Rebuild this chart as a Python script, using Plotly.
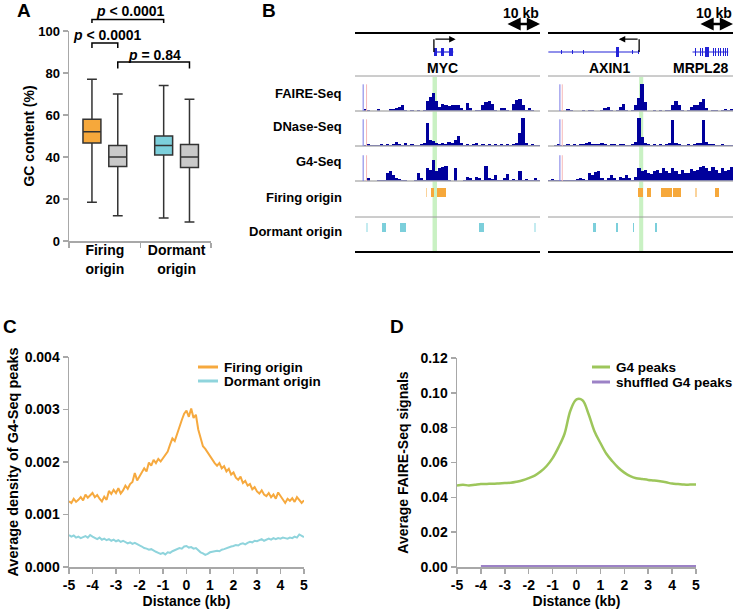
import plotly.graph_objects as go

W, H = 735, 611
FONT = "Liberation Sans, Arial, Helvetica, sans-serif"


def fx(p):
    return p / W


def fy(p):
    return 1 - p / H


def b(t):
    return f"<b>{t}</b>"


# ---------------- Panel A data: GC content ----------------
gc_categories = ["Firing<br>origin", "Dormant<br>origin"]
gc_box_names = ["Firing origin", "Firing control", "Dormant origin", "Dormant control"]
gc_box_category = [0, 0, 1, 1]
gc_box_side = [-1, 1, -1, 1]
gc_min = [18.5, 12.0, 11.0, 9.0]
gc_q1 = [46.7, 35.5, 41.0, 35.0]
gc_median = [52.0, 40.0, 45.5, 40.0]
gc_q3 = [58.0, 45.5, 50.0, 46.0]
gc_max = [77.0, 70.0, 74.0, 67.5]
gc_ticks = [0, 20, 40, 60, 80, 100]
p_texts = ["<i>p</i> &lt; 0.0001", "<i>p</i> &lt; 0.0001", "<i>p</i> = 0.84"]
p_pairs = [(0, 2), (0, 1), (1, 3)]

# ---------------- Panel B data: browser tracks ----------------
locus_length_kb = 54.4
scale_bar_kb = 10
track_names = ["FAIRE-Seq", "DNase-Seq", "G4-Seq", "Firing origin", "Dormant origin"]

faire_left = [0, 0, 0, 0.06, 0.03, 0, 0, 0.06, 0, 0, 0, 0.06, 0.08, 0.12, 0.15, 0.2, 0.05, 0, 0.03, 0,
              0.03, 0, 0.02, 0.35, 0.5, 0.62, 0.35, 0.15, 0.25, 0.2, 0.18, 0.2, 0.22, 0.22, 0.12, 0.03, 0.28, 0.12, 0, 0.05,
              0.02, 0.2, 0.3, 0.35, 0.25, 0.05, 0, 0.1, 0.1, 0.04, 0, 0.25, 0.38, 0.4, 0.2, 0.02, 0.1, 0.02, 0, 0]
faire_right = [0, 0, 0, 0, 0, 0, 0.08, 0.02, 0, 0, 0, 0.03, 0, 0.03, 0.04, 0, 0, 0.03, 0.12, 0.15,
               0.03, 0, 0.05, 0.15, 0.25, 0.05, 0, 0.03, 0.2, 0.45, 0.92, 0.3, 0, 0, 0.05, 0, 0.05, 0, 0.04, 0.05,
               0.2, 0.35, 0.2, 0.02, 0, 0.03, 0.15, 0.2, 0.2, 0.3, 0.4, 0.1, 0, 0.05, 0.05, 0, 0.03, 0.08, 0.02, 0.08]
dnase_left = [0, 0, 0, 0.04, 0.06, 0.03, 0.05, 0.04, 0.06, 0.05, 0.07, 0.05, 0.08, 0.14, 0.06, 0.05, 0.09, 0.05, 0.06, 0.04,
              0.03, 0.07, 0.1, 0.78, 0.2, 0.18, 0.12, 0.08, 0.1, 0.06, 0.15, 0.12, 0.2, 0.35, 0.1, 0.05, 0.08, 0.04, 0.06, 0.1,
              0.05, 0.07, 0.04, 0.06, 0.05, 0.08, 0.04, 0.06, 0.05, 0.07, 0.05, 0.06, 0.1, 0.45, 0.97, 0.12, 0.05, 0.06, 0.04, 0.05]
dnase_right = [0, 0, 0.04, 0.06, 0.03, 0.05, 0.07, 0.04, 0.06, 0.05, 0.08, 0.06, 0.09, 0.15, 0.07, 0.08, 0.06, 0.1, 0.07, 0.05,
               0.08, 0.06, 0.05, 0.07, 0.06, 0.05, 0.04, 0.06, 0.15, 0.95, 0.3, 0.1, 0.06, 0.05, 0.07, 0.04, 0.06, 0.05, 0.07, 0.1,
               0.88, 0.12, 0.06, 0.04, 0.05, 0.06, 0.04, 0.08, 0.1, 0.12, 0.88, 0.15, 0.08, 0.06, 0.05, 0.04, 0.06, 0.04, 0.05, 0.03]
g4_left = [0, 0, 0, 0, 0.1, 0, 0, 0.03, 0.05, 0.04, 0.3, 0.35, 0.22, 0.12, 0.08, 0.03, 0.05, 0, 0, 0.02,
           0.3, 0.1, 0.02, 0.45, 0.4, 0.75, 0.35, 0.45, 0.5, 0.55, 0.05, 0, 0.45, 0, 0, 0.02, 0.15, 0.12, 0.03, 0.15,
           0.1, 0.03, 0.55, 0.1, 0.08, 0.2, 0.03, 0.02, 0.12, 0.25, 0.03, 0.08, 0.02, 0.35, 0.05, 0.08, 0.02, 0.03, 0.12, 0.03]
g4_right = [0.02, 0.06, 0.05, 0.04, 0.03, 0.05, 0.02, 0.03, 0.04, 0.06, 0.1, 0.08, 0.05, 0.3, 0.2, 0.32, 0.35, 0.1, 0.05, 0.1,
            0.2, 0.12, 0.04, 0.15, 0.1, 0.2, 0.1, 0.04, 0.15, 0.45, 0.35, 0.4, 0.3, 0.25, 0.35, 0.4, 0.3, 0.45, 0.35, 0.3,
            0.45, 0.35, 0.25, 0.4, 0.3, 0.3, 0.42, 0.35, 0.4, 0.5, 0.55, 0.45, 0.35, 0.5, 0.4, 0.3, 0.45, 0.35, 0.4, 0.5]

firing_left_start = [20.9, 22.3, 24.1]
firing_left_end = [21.3, 23.2, 26.8]
firing_left_weak = [1, 0, 0]
firing_right_start = [26.4, 29.2, 33.2, 36.8, 43.2, 49.1]
firing_right_end = [27.8, 30.2, 36.4, 39.1, 43.7, 50.3]
firing_right_weak = [0, 0, 0, 0, 1, 0]
dormant_left_start = [3.2, 7.9, 13.3, 36.5, 52.5]
dormant_left_end = [3.7, 9.0, 15.0, 37.8, 53.1]
dormant_left_weak = [1, 0, 0, 0, 1]
dormant_right_start = [13.3, 20.0, 24.9, 31.5]
dormant_right_end = [14.0, 20.6, 25.3, 32.0]
dormant_right_weak = [0, 0, 0, 0]

highlight_start = [22.8, 26.8]
highlight_end = [24.1, 28.0]

gene_names = ["MYC", "AXIN1", "MRPL28"]
gene_locus = [0, 1, 1]
gene_start = [23.2, 0.1, 42.5]
gene_end = [28.9, 26.8, 53.0]
gene_label_pos = [25.6, 18.2, 44.8]
gene_tss = [23.2, 26.8, None]
gene_arrow_tip = [29.6, 20.8, None]
exon_start = [[23.2, 25.3, 27.7],
              [0.5, 3.9, 7.2, 10.3, 13.7, 16.7, 20.0, 22.5, 24.8, 26.6],
              [42.5, 43.3, 44.0, 44.7, 45.3, 46.2, 47.8, 48.5, 49.2, 49.9, 50.7, 51.4, 52.0, 52.7]]
exon_end = [[24.0, 26.2, 28.9],
            [0.7, 4.1, 7.4, 10.5, 13.9, 16.9, 21.0, 22.7, 25.0, 26.8],
            [42.75, 43.55, 44.25, 44.95, 45.55, 47.4, 48.05, 48.75, 49.45, 50.15, 50.95, 51.65, 52.25, 53.0]]
exon_half_height = [[0.5, 0.5, 0.5],
                    [0.25, 0.25, 0.25, 0.25, 0.25, 0.25, 0.6, 0.25, 0.25, 0.25],
                    [0.45, 0.45, 0.45, 0.45, 0.45, 0.6, 0.45, 0.45, 0.45, 0.45, 0.45, 0.45, 0.45, 0.45]]

# ---------------- Panel C data ----------------
dist_c = [round(-5 + 0.1 * i, 1) for i in range(101)]
g4_density_firing = [1.25, 1.22, 1.30, 1.24, 1.28, 1.33, 1.27, 1.38, 1.32, 1.36,
                     1.41, 1.33, 1.37, 1.30, 1.25, 1.34, 1.28, 1.45, 1.39, 1.47,
                     1.41, 1.50, 1.40, 1.46, 1.55, 1.49, 1.58, 1.62, 1.79, 1.65,
                     1.72, 1.80, 1.88, 1.82, 1.99, 1.93, 2.04, 1.98, 2.06, 2.01,
                     2.08, 2.15, 2.20, 2.33, 2.45, 2.40, 2.55, 2.68, 2.80, 2.92,
                     2.98, 2.86, 3.02, 2.84, 2.90, 2.62, 2.45, 2.30, 2.25, 2.18,
                     2.10, 2.05, 1.98, 1.93, 1.98, 1.88, 1.92, 1.82, 1.87, 1.76,
                     1.80, 1.70, 1.66, 1.72, 1.60, 1.64, 1.55, 1.58, 1.48, 1.52,
                     1.44, 1.40, 1.46, 1.38, 1.35, 1.41, 1.33, 1.38, 1.30, 1.42,
                     1.35, 1.27, 1.22, 1.30, 1.26, 1.31, 1.24, 1.33, 1.28, 1.22, 1.27]
g4_density_dormant = [0.61, 0.58, 0.60, 0.56, 0.58, 0.55, 0.57, 0.59, 0.56, 0.61,
                      0.58, 0.55, 0.53, 0.56, 0.52, 0.54, 0.51, 0.53, 0.50, 0.52,
                      0.49, 0.51, 0.48, 0.50, 0.47, 0.45, 0.47, 0.44, 0.46, 0.43,
                      0.41, 0.39, 0.36, 0.35, 0.33, 0.34, 0.31, 0.29, 0.27, 0.25,
                      0.27, 0.24, 0.28, 0.27, 0.30, 0.32, 0.33, 0.36, 0.35, 0.39,
                      0.40, 0.37, 0.38, 0.35, 0.36, 0.32, 0.28, 0.26, 0.23, 0.25,
                      0.28, 0.29, 0.30, 0.31, 0.30, 0.33, 0.34, 0.36, 0.37, 0.39,
                      0.40, 0.42, 0.41, 0.44, 0.45, 0.43, 0.46, 0.48, 0.47, 0.50,
                      0.49, 0.51, 0.53, 0.50, 0.52, 0.54, 0.52, 0.55, 0.53, 0.55,
                      0.54, 0.56, 0.55, 0.54, 0.56, 0.55, 0.58, 0.56, 0.62, 0.59, 0.57]
c_series_names = ["Firing origin", "Dormant origin"]

# ---------------- Panel D data ----------------
dist_d = [round(-5 + 0.25 * i, 2) for i in range(41)]
faire_g4 = [0.0468, 0.0472, 0.0468, 0.0472, 0.0476, 0.0477, 0.0478, 0.0480, 0.0482, 0.0484,
            0.0490, 0.0498, 0.0510, 0.0525, 0.0548, 0.0580, 0.0625, 0.0688, 0.0765, 0.0900,
            0.0962, 0.0958, 0.0880, 0.0780, 0.0712, 0.0650, 0.0607, 0.0570, 0.0542, 0.0522,
            0.0510, 0.0505, 0.0500, 0.0497, 0.0492, 0.0486, 0.0479, 0.0476, 0.0473, 0.0473, 0.0473]
faire_shuffled = [None, None, None, None, 0.0004, 0.0005, 0.0004, 0.0005, 0.0004, 0.0004,
                  0.0005, 0.0004, 0.0004, 0.0005, 0.0004, 0.0004, 0.0005, 0.0004, 0.0004, 0.0004,
                  0.0005, 0.0004, 0.0004, 0.0004, 0.0005, 0.0004, 0.0004, 0.0004, 0.0005, 0.0004,
                  0.0004, 0.0004, 0.0004, 0.0005, 0.0008, 0.0004, 0.0004, 0.0005, 0.0004, 0.0004, 0.0004]
d_series_names = ["G4 peaks", "shuffled G4 peaks"]

# ---------------- styles ----------------
ORANGE = "#F6A83B"
GREY_BOX = "#C9C9C9"
CYAN_BOX = "#7CCFDB"
C_ORANGE = "#F6A93E"
C_CYAN = "#8FD4DC"
D_GREEN = "#9DC65B"
D_PURPLE = "#9C82C6"
NAVY = "#00009C"
GENE_BLUE = "#2323D8"
AXIS_GREY = "#A8A8A8"
box_fill = [ORANGE, GREY_BOX, CYAN_BOX, GREY_BOX]

fig = go.Figure()

# ===== Panel A =====
BOX_OFF = 0.18
box_pos = [c + s * BOX_OFF for c, s in zip(gc_box_category, gc_box_side)]
for i in range(4):
    fig.add_trace(go.Box(
        x=[box_pos[i]], q1=[gc_q1[i]], median=[gc_median[i]], q3=[gc_q3[i]],
        lowerfence=[gc_min[i]], upperfence=[gc_max[i]], name=gc_box_names[i],
        width=0.25, whiskerwidth=0.55, fillcolor=box_fill[i],
        line=dict(color="#333333", width=1.5), boxpoints=False,
        xaxis="x", yaxis="y", showlegend=False))

axis_common = dict(showline=True, linecolor=AXIS_GREY, linewidth=1.5, showgrid=False,
                   zeroline=False, ticks="outside", ticklen=5, tickcolor=AXIS_GREY,
                   tickwidth=1.5, automargin=False)

layout = dict(
    xaxis=dict(domain=[fx(69), fx(211)], range=[-0.5, 1.48], anchor="y",
               tickmode="array", tickvals=[0, 1], ticktext=[b(t) for t in gc_categories],
               tickfont=dict(size=14), ticklabelstandoff=-4,
               minor=dict(tickmode="array", tickvals=[-0.5, 0.5, 1.48], ticks="outside",
                          ticklen=5, tickcolor=AXIS_GREY, tickwidth=1.5),
               **{**axis_common, "ticks": "", "ticklen": 0}),
    yaxis=dict(domain=[fy(241), fy(31)], range=[0, 100], anchor="x",
               tickmode="array", tickvals=gc_ticks, ticktext=[b(v) for v in gc_ticks],
               tickfont=dict(size=13),
               title=dict(text=b("GC content (%)"), font=dict(size=14), standoff=0),
               **axis_common),
)

shapes = []
annotations = []

# brackets with p-values
bracket_top = [19.5, 43, 62]
bracket_drop = [3.5, 5, 6.5]
p_label_xy = [(130, 11), (107, 35), (154, 55)]
for k, (pa, pb) in enumerate(p_pairs):
    xa, xb = box_pos[pa], box_pos[pb]
    yt, yb = fy(bracket_top[k]), fy(bracket_top[k] + bracket_drop[k])
    shapes.append(dict(type="path", xref="x", yref="paper",
                       path=f"M {xa},{yb} L {xa},{yt} L {xb},{yt} L {xb},{yb}",
                       line=dict(color="black", width=1.5)))
    annotations.append(dict(text=b(p_texts[k]), x=fx(p_label_xy[k][0]), y=fy(p_label_xy[k][1]),
                            xref="paper", yref="paper", showarrow=False,
                            xanchor="center", yanchor="middle",
                            font=dict(size=14)))

# ===== Panel B =====
locus_px = [(355, 540), (548, 733)]
track_px = [(36, 60), (82, 111), (117, 146), (153, 181), (188, 197), (223, 232)]
track_range = [[-1, 2], [0, 1], [0, 1], [0, 1], [0, 1], [0, 1]]
signals = [[faire_left, dnase_left, g4_left], [faire_right, dnase_right, g4_right]]
firing = [(firing_left_start, firing_left_end, firing_left_weak),
          (firing_right_start, firing_right_end, firing_right_weak)]
dormant = [(dormant_left_start, dormant_left_end, dormant_left_weak),
           (dormant_right_start, dormant_right_end, dormant_right_weak)]
nb = len(faire_left)
bin_w = locus_length_kb / nb
bin_centers = [(i + 0.5) * bin_w for i in range(nb)]
scale_marks = [(2.4, 3.4), (3.5, 4.2)]

for L in range(2):
    xid = f"x{L + 2}"
    xname = f"xaxis{L + 2}"
    ybase = 2 + L * 6
    layout[xname] = dict(domain=[fx(locus_px[L][0]), fx(locus_px[L][1])],
                         range=[0, locus_length_kb], visible=False, anchor=f"y{ybase}")
    for t in range(6):
        yn = ybase + t
        layout[f"yaxis{yn}"] = dict(domain=[fy(track_px[t][1]), fy(track_px[t][0])],
                                    range=track_range[t], visible=False, anchor=xid)
    for s in range(3):
        yid = f"y{ybase + 1 + s}"
        fig.add_trace(go.Bar(x=bin_centers, y=signals[L][s], width=bin_w * 1.04,
                             marker=dict(color=NAVY, line=dict(width=0)),
                             xaxis=xid, yaxis=yid, showlegend=False,
                             name=track_names[s]))
        shapes.append(dict(type="line", xref=f"{xid} domain", yref="paper", x0=0, x1=1,
                           y0=fy(track_px[s + 1][1]), y1=fy(track_px[s + 1][1]),
                           line=dict(color="#B5B5B5", width=1.5)))
        shapes.append(dict(type="line", xref=xid, yref=f"{yid} domain",
                           x0=scale_marks[L][0], x1=scale_marks[L][0], y0=0, y1=0.92,
                           line=dict(color="#7A7AE6", width=1)))
        shapes.append(dict(type="line", xref=xid, yref=f"{yid} domain",
                           x0=scale_marks[L][1], x1=scale_marks[L][1], y0=0, y1=0.92,
                           line=dict(color="#F6B8B8", width=1)))
    for (starts, ends, weak), t, col, wcol in ((firing[L], 4, ORANGE, "#FAD39C"),
                                               (dormant[L], 5, CYAN_BOX, "#C4EBF0")):
        fig.add_trace(go.Bar(x=[(a + e) / 2 for a, e in zip(starts, ends)],
                             y=[1] * len(starts), base=0,
                             width=[e - a for a, e in zip(starts, ends)],
                             marker=dict(color=[wcol if w else col for w in weak], line=dict(width=0)),
                             xaxis=xid, yaxis=f"y{ybase + t}", showlegend=False,
                             name=track_names[t - 1]))
    shapes.append(dict(type="rect", xref=xid, yref="paper", layer="below",
                       x0=highlight_start[L], x1=highlight_end[L], y0=fy(252), y1=fy(77),
                       fillcolor="#C9F1C3", line=dict(width=0)))
    for ypx, col, wd in ((33, "black", 2), (76, "#9A9A9A", 1), (217, "#9A9A9A", 1), (252, "black", 2)):
        shapes.append(dict(type="line", xref=f"{xid} domain", yref="paper", x0=0, x1=1,
                           y0=fy(ypx), y1=fy(ypx), line=dict(color=col, width=wd)))
    annotations.append(dict(x=locus_length_kb, y=fy(24), xref=xid, yref="paper",
                            ax=locus_length_kb - scale_bar_kb, ay=0, axref=xid, ayref="pixel",
                            showarrow=True, arrowhead=2, arrowside="end+start", arrowsize=1.1,
                            arrowwidth=2.4, arrowcolor="black", text=""))
    annotations.append(dict(x=locus_length_kb - scale_bar_kb / 2 - 0.6, y=fy(13), xref=xid, yref="paper",
                            text=b("10 kb"), showarrow=False, xanchor="center", yanchor="middle",
                            font=dict(size=14)))

for g in range(3):
    L = gene_locus[g]
    xid = f"x{L + 2}"
    yid = f"y{2 + L * 6}"
    fig.add_trace(go.Scatter(x=[gene_start[g], gene_end[g]], y=[0, 0], mode="lines",
                             line=dict(color=GENE_BLUE, width=1.2), xaxis=xid, yaxis=yid,
                             showlegend=False, name=gene_names[g]))
    fig.add_trace(go.Bar(x=[(a + e) / 2 for a, e in zip(exon_start[g], exon_end[g])],
                         y=[2 * h for h in exon_half_height[g]],
                         base=[-h for h in exon_half_height[g]],
                         width=[max(e - a, 0.18) for a, e in zip(exon_start[g], exon_end[g])],
                         marker=dict(color=GENE_BLUE, line=dict(width=0)),
                         xaxis=xid, yaxis=yid, showlegend=False, name=gene_names[g]))
    annotations.append(dict(x=gene_label_pos[g], y=fy(68), xref=xid, yref="paper",
                            text=b(gene_names[g]), showarrow=False, xanchor="center",
                            yanchor="middle", font=dict(size=14)))
    if gene_tss[g] is not None:
        fig.add_trace(go.Scatter(x=[gene_tss[g], gene_tss[g]], y=[0, 1.6], mode="lines",
                                 line=dict(color="black", width=1.3), xaxis=xid, yaxis=yid,
                                 showlegend=False, name=gene_names[g] + " TSS"))
        annotations.append(dict(x=gene_arrow_tip[g], y=1.6, xref=xid, yref=yid,
                                ax=gene_tss[g], ay=1.6, axref=xid, ayref=yid,
                                showarrow=True, arrowhead=2, arrowsize=1, arrowwidth=1.3,
                                arrowcolor="black", text=""))

label_y = [93, 127, 162, 197, 232]
for name, ypx in zip(track_names, label_y):
    annotations.append(dict(text=b(name), x=fx(344), y=fy(ypx), xref="paper", yref="paper",
                            xanchor="right", yanchor="middle", showarrow=False,
                            font=dict(size=13)))

# ===== Panel C =====
fig.add_trace(go.Scatter(x=dist_c, y=[v / 1000 for v in g4_density_firing], mode="lines",
                         line=dict(color=C_ORANGE, width=2), xaxis="x4", yaxis="y14",
                         name=c_series_names[0], showlegend=False))
fig.add_trace(go.Scatter(x=dist_c, y=[v / 1000 for v in g4_density_dormant], mode="lines",
                         line=dict(color=C_CYAN, width=2), xaxis="x4", yaxis="y14",
                         name=c_series_names[1], showlegend=False))
dist_ticks = [-5, -4, -3, -2, -1, 0, 1, 2, 3, 4, 5]
c_yticks = [0, 0.001, 0.002, 0.003, 0.004]
d_yticks = [0, 0.02, 0.04, 0.06, 0.08, 0.10, 0.12]
layout["xaxis4"] = dict(domain=[fx(69), fx(304)], range=[-5, 5], anchor="y14",
                        tickmode="array", tickvals=dist_ticks, ticktext=[b(v) for v in dist_ticks],
                        tickfont=dict(size=14),
                        title=dict(text=b("Distance (kb)"), font=dict(size=14), standoff=4),
                        **axis_common)
layout["yaxis14"] = dict(domain=[fy(567), fy(357)], range=[0, 0.004], anchor="x4",
                         tickmode="array", tickvals=c_yticks, ticktext=[b(f"{v:.3f}") for v in c_yticks],
                         tickfont=dict(size=14),
                         title=dict(text=b("Average density of G4-Seq peaks"),
                                    font=dict(size=14.5), standoff=2),
                         **axis_common)

# ===== Panel D =====
fig.add_trace(go.Scatter(x=dist_d, y=faire_g4, mode="lines", line=dict(color=D_GREEN, width=2.5, shape="spline"),
                         xaxis="x5", yaxis="y15", name=d_series_names[0], showlegend=False))
fig.add_trace(go.Scatter(x=dist_d, y=faire_shuffled, mode="lines", line=dict(color=D_PURPLE, width=2.5),
                         xaxis="x5", yaxis="y15", name=d_series_names[1], showlegend=False))
layout["xaxis5"] = dict(domain=[fx(457), fx(696)], range=[-5, 5], anchor="y15",
                        tickmode="array", tickvals=dist_ticks, ticktext=[b(v) for v in dist_ticks],
                        tickfont=dict(size=14),
                        title=dict(text=b("Distance (kb)"), font=dict(size=14), standoff=4),
                        **axis_common)
layout["yaxis15"] = dict(domain=[fy(567), fy(358)], range=[0, 0.12], anchor="x5",
                         tickmode="array", tickvals=d_yticks, ticktext=[b(f"{v:.2f}") for v in d_yticks],
                         tickfont=dict(size=14),
                         title=dict(text=b("Average FAIRE-Seq signals"), font=dict(size=14), standoff=8),
                         **axis_common)

legend_specs = [((198, 218, 222), [367, 381], c_series_names, [C_ORANGE, C_CYAN]),
                ((592, 610, 614), [367, 382], d_series_names, [D_GREEN, D_PURPLE])]
for (x0, x1, xt), ys, names, cols in legend_specs:
    for yy, nm, col in zip(ys, names, cols):
        shapes.append(dict(type="line", xref="paper", yref="paper", x0=fx(x0), x1=fx(x1),
                           y0=fy(yy), y1=fy(yy), line=dict(color=col, width=3)))
        annotations.append(dict(text=b(nm), x=fx(xt), y=fy(yy), xref="paper", yref="paper",
                                xanchor="left", yanchor="middle", showarrow=False,
                                font=dict(size=13.5)))

for letter, (lx, ly) in zip("ABCD", [(15, 10), (260, 10), (1, 326), (388, 326)]):
    annotations.append(dict(text=b(letter), x=fx(lx), y=fy(ly), xref="paper", yref="paper",
                            xanchor="left", yanchor="middle", showarrow=False,
                            font=dict(size=19)))

fig.update_layout(**layout)
fig.update_layout(width=W, height=H, margin=dict(l=0, r=0, t=0, b=0),
                  paper_bgcolor="white", plot_bgcolor="rgba(0,0,0,0)",
                  font=dict(family=FONT, size=14, color="black"),
                  showlegend=False, barmode="overlay", boxmode="overlay", bargap=0,
                  shapes=shapes, annotations=annotations)

fig.write_html("out.html", config={"displayModeBar": False, "staticPlot": True},
               post_script="document.body.style.margin='0';document.body.style.overflow='hidden';")
